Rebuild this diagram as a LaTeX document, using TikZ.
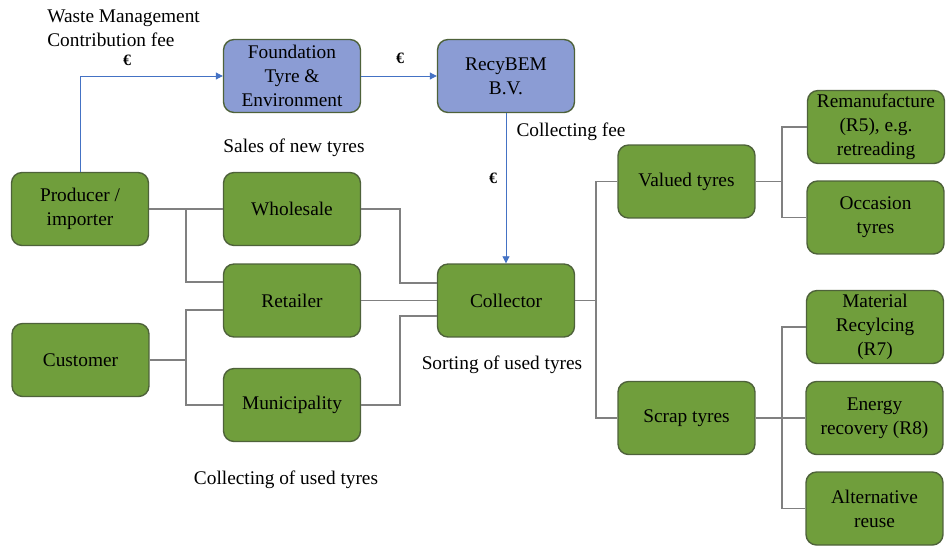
\documentclass[tikz,border=0pt]{standalone}
\usepackage{fontspec}
\setmainfont{Liberation Serif}
\usepackage{tikz}
\usetikzlibrary{arrows.meta}
\definecolor{boxgreen}{RGB}{112,158,60}
\definecolor{boxblue}{RGB}{139,156,212}
\definecolor{boxline}{RGB}{78,98,58}
\definecolor{linegray}{RGB}{128,128,128}
\definecolor{moneyblue}{RGB}{68,114,196}
\tikzset{box/.style={draw=boxline, fill=boxgreen, line width=0.8pt, rounded corners=6pt,
    minimum width=2.74cm, minimum height=1.46cm, inner sep=1pt, align=center,
    font=\rmfamily\fontsize{11}{13.6}\selectfont},
  bluebox/.style={box, fill=boxblue},
  link/.style={draw=linegray, line width=0.6pt},
  money/.style={draw=moneyblue, line width=0.5pt, -{Triangle[length=4pt,width=4pt]}},
  euro/.style={font=\fontsize{9}{10}\selectfont\bfseries},
  note/.style={font=\rmfamily\fontsize{11}{13.6}\selectfont, inner sep=0pt},
}

\begin{document}
\begin{tikzpicture}[x=0.02cm, y=-0.02cm]
                    \useasboundingbox (0,0) rectangle (947,545);
                    %Fee boxes on top:
                    \node[bluebox] (found) at (292,76) {Foundation\\Tyre \&\\Environment};
                    \node[bluebox] (recy) at (506,76) {RecyBEM\\B.V.};
                    %Sales and collecting chain
                    \node[box] (prod) at (80,209) {Producer /\\importer};
                    \node[box] (cust) at (80.5,360) {Customer};
                    \node[box] (whole) at (292,209) {Wholesale};
                    \node[box] (retail) at (292,300.5) {Retailer};
                    \node[box] (muni) at (292,405) {Municipality};
                    \node[box] (coll) at (506,300.5) {Collector};
                    %Sorting and treatment
                    \node[box] (valued) at (686.5,181.5) {Valued tyres};
                    \node[box] (scrap) at (686.5,418) {Scrap tyres};
                    \node[box] (reman) at (876,127) {Remanufacture\\(R5), e.g.\\retreading};
                    \node[box] (occas) at (875.5,217.5) {Occasion\\tyres};
                    \node[box] (mater) at (875,327) {Material\\Recylcing\\(R7)};
                    \node[box] (energy) at (874.5,418) {Energy\\recovery (R8)};
                    \node[box] (alt) at (874.5,508.5) {Alternative\\reuse};
                    %Texts
                    \node[note, anchor=west, align=left] (wmc) at (47,28.5) {Waste Management\\Contribution fee};
                    \node[note] (sales) at (294,148) {Sales of new tyres};
                    \node[note] (cfee) at (571,132) {Collecting fee};
                    \node[note] (sort) at (502,365) {Sorting of used tyres};
                    \node[note] (cused) at (286,480) {Collecting of used tyres};
                    \node[euro] (e1) at (127,60) {€};
                    \node[euro] (e2) at (400,58) {€};
                    \node[euro] (e3) at (493,178) {€};
                    %Money flow
                    \draw[money] (prod.north) |- (found.west);
                    \draw[money] (found.east) -- (recy.west);
                    \draw[money] (recy.south) -- (coll.north);
                    %Junctions
                    \coordinate (jprod) at (186,209);
                    \coordinate (jcust) at (186,360);
                    \coordinate (jwhole) at (400,209);
                    \coordinate (jmuni) at (400,405);
                    \coordinate (jcoll) at (596,300.5);
                    \coordinate (jval) at (782,181.5);
                    \coordinate (jscrap) at (782,418);
                    %Tyre flow
                    \draw[link] (prod.east) -- (whole.west);
                    \draw[link] (jprod) |- ([yshift=0.37cm]retail.west);
                    \draw[link] (cust.east) -- (jcust);
                    \draw[link] ([yshift=-0.19cm]retail.west) -| (jcust) |- (muni.west);
                    \draw[link] (whole.east) -- (jwhole) |- ([yshift=0.35cm]coll.west);
                    \draw[link] (retail.east) -- (coll.west);
                    \draw[link] (muni.east) -- (jmuni) |- ([yshift=-0.31cm]coll.west);
                    \draw[link] (coll.east) -- (jcoll);
                    \draw[link] (valued.west) -| (jcoll) |- (scrap.west);
                    \draw[link] (valued.east) -- (jval);
                    \draw[link] (reman.west) -| (jval) |- (occas.west);
                    \draw[link] (scrap.east) -- (energy.west);
                    \draw[link] (mater.west) -| (jscrap) |- (alt.west);
                \end{tikzpicture}
\end{document}
